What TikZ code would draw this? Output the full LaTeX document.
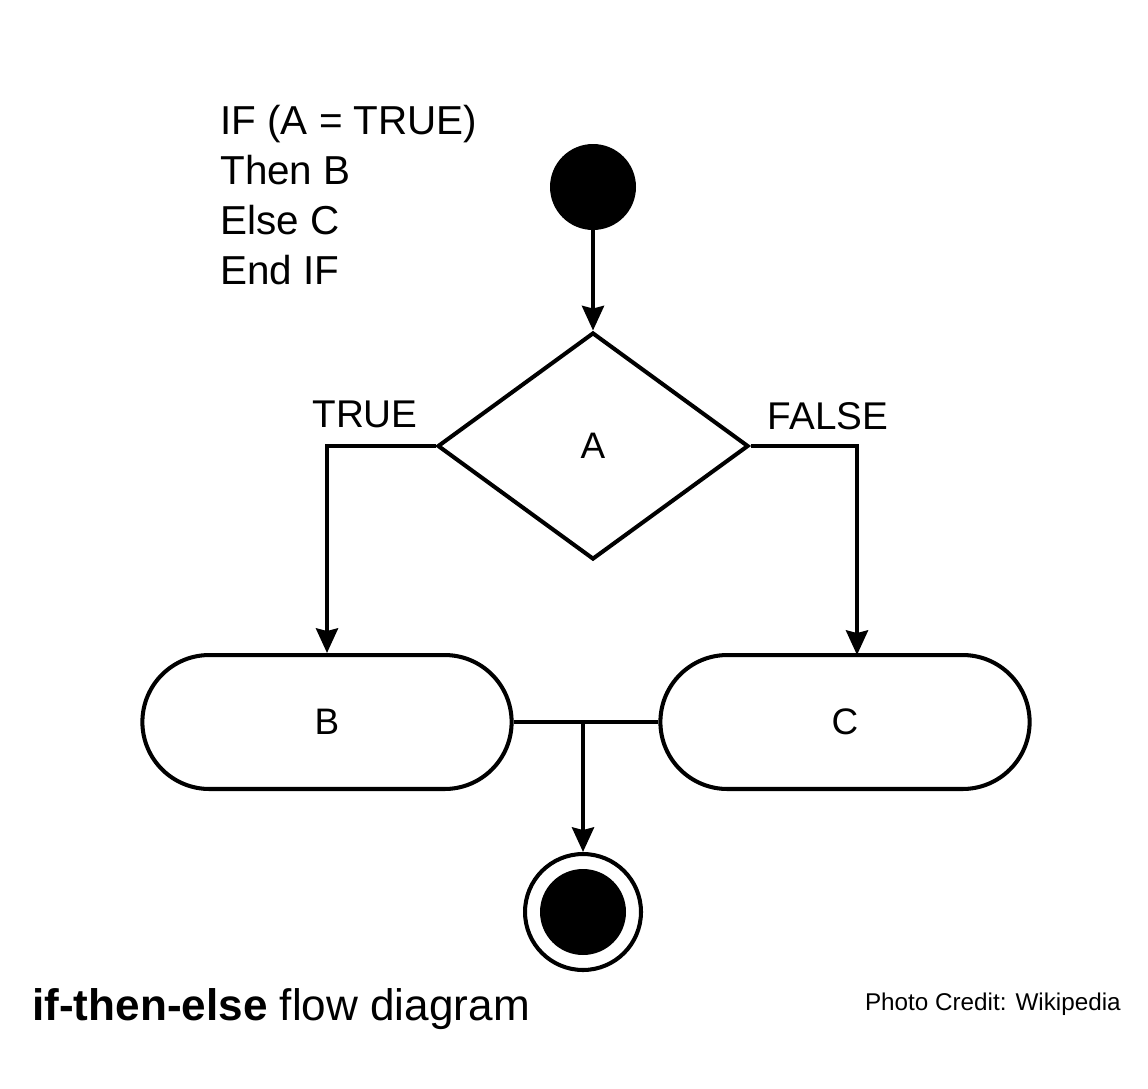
\documentclass[tikz,border=0pt]{standalone}
\usepackage{fontspec}
\setmainfont{Liberation Sans}
\usetikzlibrary{shapes.geometric,shapes.misc,arrows.meta}
\tikzset{flowline/.style={line width=2.3pt},
flowarrow/.style={flowline, -{Stealth[length=14pt, width=12.5pt, inset=1.5pt]}},
actnode/.style={rounded rectangle, draw, line width=2.3pt, minimum width=7.62cm, minimum height=2.68cm, font=\fontsize{21}{24}\selectfont},
decnode/.style={diamond, draw, line width=2.3pt, minimum width=6.22cm, minimum height=4.54cm, inner sep=0pt, font=\fontsize{21}{24}\selectfont},
startnode/.style={circle, fill=black, minimum size=1.72cm, inner sep=0pt},
endnode/.style={circle, draw, line width=2.3pt, fill=white, minimum size=2.32cm, inner sep=0pt},
branchlabel/.style={anchor=base, inner sep=0pt, font=\fontsize{22}{24}\selectfont},}

\begin{document}
\begin{tikzpicture}[x=0.02cm, y=-0.02cm]
\useasboundingbox (0,0) rectangle (1148,1088);
\node [anchor=north west, inner sep=0pt, align=left, font=\fontsize{23}{28.35}\selectfont] (code) at (220,105) {IF (A = TRUE)\\Then B\\Else C\\End IF};
\node [startnode] (start) at (593,187) {};
\node [decnode] (cond) at (593,446) {A};
\node [actnode] (b) at (327,722) {B};
\node [actnode] (c) at (845,722) {C};
\node [endnode] (stop) at (583,912) {};
\node [startnode] (stopdot) at (stop.center) {};
\node [branchlabel] (true) at (365,427) {TRUE};
\node [branchlabel] (false) at (828,429) {FALSE};
\coordinate (join) at (stop |- b.east);
\coordinate (cin) at (857,655);
\draw[flowarrow] (start) -- (cond.north);
\draw[flowarrow] (cond.west) -| (b.north);
\draw[flowarrow] (cond.east) -| (cin);
\draw[flowline] (b.east) -- (c.west);
\draw[flowarrow] (join) -- (stop.north);
% caption
\node [anchor=base west, inner sep=0pt, font=\fontsize{25.1}{28}\selectfont] (caption) at (32,1020) {\textbf{if-then-else} flow diagram};
\node [anchor=base east, inner sep=0pt, font=\fontsize{13.8}{16}\selectfont] (credit) at (1121,1010) {Photo Credit: Wikipedia};
\end{tikzpicture}
\end{document}
